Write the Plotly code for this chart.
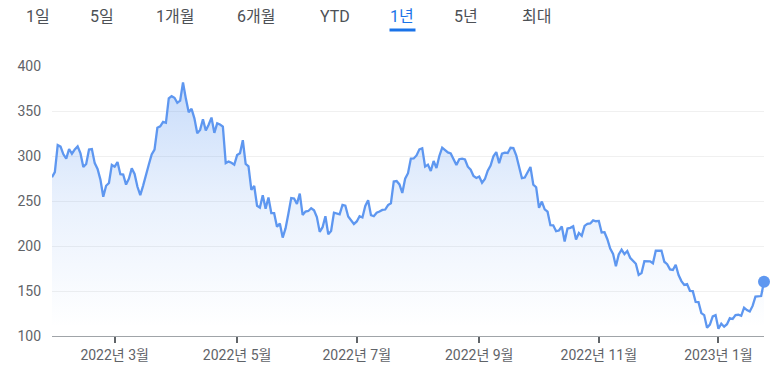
import pandas as pd
import plotly.graph_objects as go

# ---- data ----
holidays = ["2022-02-21", "2022-04-15", "2022-05-30", "2022-06-20", "2022-07-04",
            "2022-09-05", "2022-11-24", "2022-12-26", "2023-01-02", "2023-01-16"]
dates = [d.strftime("%Y-%m-%d") for d in pd.bdate_range("2022-01-27", "2023-01-26")
         if d.strftime("%Y-%m-%d") not in holidays]

prices = [
    # Jan 2022
    276.4, 282.1, 312.2,
    # Feb
    310.4, 301.9, 297.1, 307.8, 302.5, 307.3, 310.7, 302.9, 287.9, 291.1, 307.1, 307.7,
    292.1, 285.7, 273.8, 254.7, 266.9, 270.0, 290.1,
    # Mar
    288.1, 293.3, 279.8, 279.4, 268.2, 274.8, 286.3, 280.0, 265.8, 256.5, 267.1, 280.6,
    290.5, 301.8, 307.1, 331.3, 333.0, 338.0, 336.9, 364.0, 366.5, 364.7, 359.2,
    # Apr
    361.5, 381.8, 363.8, 348.6, 352.4, 341.8, 325.3, 329.0, 340.8, 328.3, 334.8, 342.7,
    325.7, 336.3, 335.0, 332.7, 292.1, 293.8, 292.5, 290.3,
    # May
    301.0, 303.1, 317.5, 291.1, 288.6, 262.4, 266.7, 244.7, 242.7, 256.5, 241.5, 253.9,
    236.6, 236.5, 221.3, 225.0, 209.4, 219.6, 235.9, 253.2, 252.8,
    # Jun
    246.8, 258.3, 234.5, 238.3, 238.9, 241.9, 239.7, 232.2, 215.7, 220.9, 233.0, 213.1,
    216.8, 237.0, 236.1, 235.1, 245.7, 244.9, 232.7, 228.5, 224.5,
    # Jul
    227.3, 233.1, 231.7, 244.5, 250.8, 234.3, 233.1, 237.0, 238.3, 240.1, 240.5, 245.5,
    247.5, 271.7, 272.2, 268.4, 258.9, 274.8, 280.9, 297.2,
    # Aug
    297.3, 300.6, 307.4, 308.6, 288.2, 290.4, 283.3, 294.4, 286.6, 300.0, 309.3, 306.6,
    304.0, 302.9, 296.7, 289.9, 296.5, 297.1, 296.1, 288.1, 284.8, 277.7, 275.6,
    # Sep
    277.2, 270.2, 274.4, 283.7, 289.3, 299.7, 304.4, 292.1, 302.6, 303.8, 303.4, 309.1,
    308.7, 300.8, 288.6, 275.3, 276.0, 282.9, 287.8, 268.2, 265.3,
    # Oct
    242.4, 249.4, 240.8, 238.1, 223.1, 223.0, 216.5, 217.2, 221.7, 205.0, 219.4, 220.2,
    222.0, 207.3, 214.4, 211.3, 222.4, 224.6, 225.1, 228.5, 227.5,
    # Nov
    227.8, 215.0, 215.3, 207.5, 197.1, 191.3, 177.6, 190.7, 196.0, 191.0, 194.4, 186.9,
    183.2, 180.2, 167.9, 169.9, 183.2, 182.9, 182.9, 180.8, 194.7,
    # Dec
    194.7, 194.9, 182.5, 179.8, 174.0, 173.4, 179.1, 167.8, 161.0, 156.8, 157.7, 150.2,
    149.9, 137.8, 137.6, 125.4, 123.2, 109.1, 112.7, 121.8, 123.2,
    # Jan 2023
    108.1, 113.6, 110.3, 113.1, 119.8, 118.9, 123.2, 123.6, 122.4, 131.5, 128.8, 127.2,
    133.4, 143.8, 143.9, 144.4, 160.3,
]

tick_dates = ["2022-03-01", "2022-05-02", "2022-07-01", "2022-09-01", "2022-11-01", "2023-01-03"]
tick_labels = ["2022년 3월", "2022년 5월", "2022년 7월", "2022년 9월", "2022년 11월", "2023년 1월"]
y_ticks = [100, 150, 200, 250, 300, 350, 400]

buttons = ["1일", "5일", "1개월", "6개월", "YTD", "1년", "5년", "최대"]
selected = "1년"

# ---- style ----
W, H = 780, 375
ML, MR, MT, MB = 52, 16, 66, 39
PW, PH = W - ML - MR, H - MT - MB
LINE = "#5e97f0"
FONT = "Roboto, 'Noto Sans CJK KR', sans-serif"


def px_x(px):
    return (px - ML) / PW


def px_y(py):
    return 1 + (MT - py) / PH


fig = go.Figure()
fig.add_trace(go.Scatter(
    x=dates, y=prices, mode="lines",
    line=dict(color=LINE, width=2.3),
    fill="tozeroy",
    fillgradient=dict(type="vertical", start=110, stop=400,
                      colorscale=[[0, "rgba(90,150,240,0.0)"],
                                  [0.5, "rgba(90,150,240,0.14)"],
                                  [1, "rgba(90,150,240,0.36)"]]),
    hoverinfo="skip", showlegend=False,
))
fig.add_trace(go.Scatter(
    x=[dates[-1]], y=[prices[-1]], mode="markers",
    marker=dict(color=LINE, size=12), cliponaxis=False,
    hoverinfo="skip", showlegend=False,
))

button_centers = [37.5, 102, 175, 256, 335, 402, 466, 536]
annotations = []
for label, cx in zip(buttons, button_centers):
    annotations.append(dict(
        text=label, x=px_x(cx), y=px_y(17), xref="paper", yref="paper",
        xanchor="center", yanchor="middle", showarrow=False,
        font=dict(family=FONT, size=16,
                  color="#1a73e8" if label == selected else "#4d5156"),
    ))

shapes = [dict(type="line", xref="paper", yref="paper",
               x0=px_x(389.5), x1=px_x(415.5), y0=px_y(30), y1=px_y(30),
               line=dict(color="#1a73e8", width=3))]

fig.update_layout(
    width=W, height=H,
    margin=dict(l=ML, r=MR, t=MT, b=MB, pad=0),
    paper_bgcolor="white", plot_bgcolor="white",
    annotations=annotations, shapes=shapes,
    xaxis=dict(type="category", range=[0, len(dates) - 1],
               tickmode="array", tickvals=tick_dates, ticktext=tick_labels,
               showgrid=False, showline=True, linecolor="#a0a4a8", linewidth=1,
               ticks="outside", ticklen=6, tickwidth=2, tickcolor="#606468",
               tickfont=dict(family=FONT, size=14, color="#5f6368"),
               zeroline=False, fixedrange=True),
    yaxis=dict(range=[100, 400], tickmode="array", tickvals=y_ticks,
               showgrid=True, gridcolor="#f0f0f0", gridwidth=1,
               zeroline=False, showline=False, ticks="",
               ticklabelstandoff=10,
               tickfont=dict(family=FONT, size=14, color="#5f6368"),
               fixedrange=True),
)

fig.write_html("out.html", config={"displayModeBar": False},
               post_script="document.body.style.margin='0';document.body.style.overflow='hidden';")
